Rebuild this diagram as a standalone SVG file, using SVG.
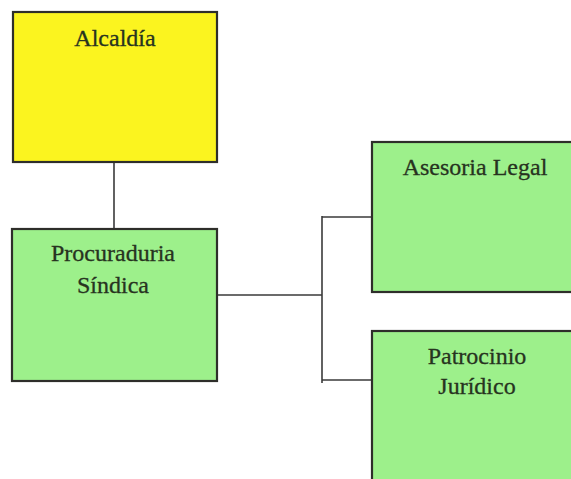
<svg xmlns="http://www.w3.org/2000/svg" width="571" height="479" viewBox="0 0 571 479">
  <style>
    .box { stroke: #2e2e2a; stroke-width: 2.2; }
    .yellow { fill: #fbf41f; }
    .green { fill: #9df08b; }
    .label { font-family: "Liberation Serif", "Times New Roman", serif; font-size: 24px; fill: #27331f; stroke: #27331f; stroke-width: 0.3; text-anchor: middle; }
    .link { stroke: #3a3a3a; stroke-width: 1.6; fill: none; }
  </style>
  <rect width="571" height="479" fill="#ffffff"/>

  <g id="connectors">
    <line class="link" x1="114" y1="162" x2="114" y2="229"/>
    <line class="link" x1="217" y1="295" x2="322" y2="295"/>
    <line class="link" x1="322" y1="216" x2="322" y2="383"/>
    <line class="link" x1="322" y1="217" x2="372" y2="217"/>
    <line class="link" x1="322" y1="380" x2="372" y2="380"/>
  </g>

  <g id="alcaldia">
    <rect class="box yellow" x="13" y="12" width="204" height="150"/>
    <text class="label" x="115" y="46">Alcaldía</text>
  </g>

  <g id="procuraduria">
    <rect class="box green" x="12" y="229" width="205" height="152"/>
    <text class="label" x="113" y="261">Procuraduria</text>
    <text class="label" x="113" y="293">Síndica</text>
  </g>

  <g id="asesoria">
    <rect class="box green" x="372" y="142" width="210" height="150"/>
    <text class="label" x="475" y="175">Asesoria Legal</text>
  </g>

  <g id="patrocinio">
    <rect class="box green" x="372" y="331" width="210" height="160"/>
    <text class="label" x="477" y="364">Patrocinio</text>
    <text class="label" x="477" y="394">Jurídico</text>
  </g>
</svg>
